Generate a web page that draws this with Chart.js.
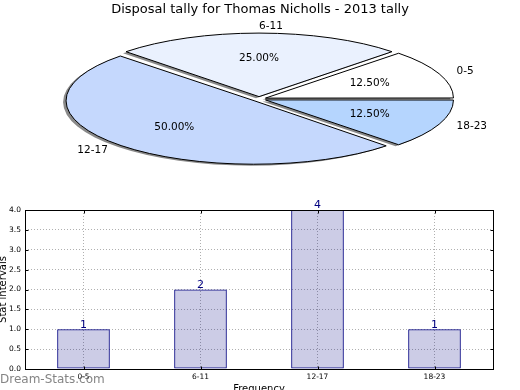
<!DOCTYPE html>
<html>
<head>
<meta charset="utf-8">
<script src="https://cdn.jsdelivr.net/npm/chart.js@4/dist/chart.umd.min.js"></script>
<style>
  body { margin: 0; background: #fff; width: 520px; height: 390px; overflow: hidden; position: relative; }
  canvas { position: absolute; left: 0; }
  #pie { top: 0; }
  #bar { top: 190px; }
</style>
</head>
<body>
<canvas id="pie" width="520" height="190"></canvas>
<canvas id="bar" width="520" height="200"></canvas>
<script>
// --- data ---
const categories = ["0-5", "6-11", "12-17", "18-23"];
const counts = [1, 2, 4, 1];
const yMax = 4;
const yStep = 0.5;
const titleText = "Disposal tally for Thomas Nicholls - 2013 tally";
const xTitle = "Frequency";
const yTitle = "Stat intervals";

// --- style ---
const sliceColors = ["#ffffff", "#eaf1fe", "#c5d8fd", "#b5d5fe"];
const FONT = "DejaVu Sans";
const PIE_CX = 259, PIE_CY = 99, PIE_R = 188, PIE_K = 0.338, PIE_EXPLODE = 7;

Chart.defaults.font.family = FONT;
Chart.defaults.color = "#000";

const total = counts.reduce((a, b) => a + b, 0);

// pie is drawn clockwise from 3 o'clock, so feed it reversed to get matplotlib's ccw order
const pieLabels = categories.slice().reverse();
const pieData = counts.slice().reverse();
const pieColors = sliceColors.slice().reverse();

// squash the pie into an ellipse, strokes kept at 1px
const squash = {
  id: "squash",
  beforeDatasetsDraw(chart) {
    const ctx = chart.ctx;
    const arcs = chart.getDatasetMeta(0).data;
    // chart.js grows exploded arcs by offset*(1-sin(angle)); undo so all slices share one radius
    arcs.forEach(arc => {
      const fix = 1 - Math.sin(Math.min(Math.PI, arc.circumference));
      arc.outerRadius = PIE_R - PIE_EXPLODE * fix;
    });
    const dpr = chart.currentDevicePixelRatio;
    ctx.save();
    ctx.translate(PIE_CX, PIE_CY);
    ctx.scale(1, PIE_K);
    ctx.translate(-arcs[0].x, -arcs[0].y);
    ctx.shadowColor = "rgba(40,40,40,0.55)";
    ctx.shadowOffsetX = -3;
    ctx.shadowOffsetY = 1.5;
    const orig = CanvasRenderingContext2D.prototype.stroke;
    ctx.stroke = function () {
      this.save();
      this.setTransform(dpr, 0, 0, dpr, 0, 0);
      this.shadowColor = "rgba(0,0,0,0)";
      orig.apply(this, arguments);
      this.restore();
    };
  },
  afterDatasetsDraw(chart) {
    const ctx = chart.ctx;
    delete ctx.stroke;
    ctx.restore();
  },
  afterDraw(chart) {
    const ctx = chart.ctx;
    const meta = chart.getDatasetMeta(0);
    ctx.save();
    ctx.font = "10.5px " + FONT;
    ctx.fillStyle = "#000";
    ctx.textBaseline = "middle";
    meta.data.forEach((arc, i) => {
      const p = arc.getProps(["startAngle", "endAngle"], true);
      const mid = (p.startAngle + p.endAngle) / 2;
      const ux = Math.cos(mid), uy = Math.sin(mid);
      const dl = PIE_EXPLODE + PIE_R * 1.1;
      ctx.textAlign = ux > -1e-6 ? "left" : "right";
      ctx.fillText(pieLabels[i], PIE_CX + ux * dl, PIE_CY + uy * dl * PIE_K);
      const dp = PIE_EXPLODE + PIE_R * 0.6;
      ctx.textAlign = "center";
      const pct = (pieData[i] / total * 100).toFixed(2) + "%";
      ctx.fillText(pct, PIE_CX + ux * dp, PIE_CY + uy * dp * PIE_K);
    });
    ctx.restore();
  }
};

new Chart(document.getElementById("pie"), {
  type: "pie",
  data: {
    labels: pieLabels,
    datasets: [{
      data: pieData,
      backgroundColor: pieColors,
      borderColor: "#000",
      borderWidth: 1,
      // chart.js moves each arc by offset/4
      offset: PIE_EXPLODE * 4
    }]
  },
  options: {
    responsive: false,
    animation: false,
    events: [],
    rotation: 90,
    radius: PIE_R,
    plugins: {
      legend: { display: false },
      tooltip: { enabled: false },
      title: {
        display: true,
        text: titleText,
        font: { size: 13, weight: "normal" },
        color: "#000",
        padding: { top: 2, bottom: 0 }
      }
    }
  },
  plugins: [squash]
});

// frame, inward ticks, value labels, watermark
const barDeco = {
  id: "barDeco",
  afterDatasetsDraw(chart) {
    const ctx = chart.ctx;
    const meta = chart.getDatasetMeta(0);
    ctx.save();
    ctx.font = "11px " + FONT;
    ctx.fillStyle = "#000080";
    ctx.textAlign = "center";
    ctx.textBaseline = "bottom";
    meta.data.forEach((bar, i) => {
      ctx.fillText(String(counts[i]), bar.x, bar.y + 1);
    });
    ctx.restore();
  },
  afterDraw(chart) {
    const ctx = chart.ctx;
    const a = chart.chartArea;
    const l = Math.round(a.left) + 0.5, r = Math.round(a.right) + 0.5;
    const t = Math.round(a.top) + 0.5, b = Math.round(a.bottom) + 0.5;
    ctx.save();
    ctx.strokeStyle = "#000";
    ctx.lineWidth = 1;
    ctx.beginPath();
    chart.scales.y.ticks.forEach(tk => {
      const y = Math.round(chart.scales.y.getPixelForValue(tk.value)) + 0.5;
      ctx.moveTo(l, y); ctx.lineTo(l + 3, y);
      ctx.moveTo(r, y); ctx.lineTo(r - 3, y);
    });
    chart.scales.x.ticks.forEach((tk, i) => {
      const x = Math.round(chart.scales.x.getPixelForTick(i)) + 0.5;
      ctx.moveTo(x, b); ctx.lineTo(x, b - 3);
      ctx.moveTo(x, t); ctx.lineTo(x, t + 3);
    });
    ctx.stroke();
    ctx.strokeRect(l, t, r - l, b - t);
    ctx.font = "12px " + FONT;
    ctx.fillStyle = "rgba(110,110,110,0.85)";
    ctx.textAlign = "left";
    ctx.textBaseline = "middle";
    ctx.fillText("Dream-Stats.com", 0, 190);
    ctx.restore();
  }
};

new Chart(document.getElementById("bar"), {
  type: "bar",
  data: {
    labels: categories,
    datasets: [{
      data: counts,
      backgroundColor: "rgba(0,0,128,0.2)",
      borderColor: "#000080",
      borderWidth: 1,
      borderSkipped: false,
      barPercentage: 0.45,
      categoryPercentage: 1
    }]
  },
  options: {
    responsive: false,
    animation: false,
    events: [],
    layout: { padding: { top: 20, right: 27, left: 0, bottom: 0 } },
    plugins: { legend: { display: false }, tooltip: { enabled: false } },
    scales: {
      x: {
        offset: true,
        grid: { offset: false, color: "#b0b0b0", drawTicks: false },
        border: { display: false, dash: [1, 2] },
        ticks: { font: { size: 7.5 }, padding: 4, color: "#000", maxRotation: 0 },
        title: { display: true, text: xTitle, font: { size: 10 }, color: "#000", padding: { top: 0, bottom: -5 } },
        afterFit: s => { s.height = 21; }
      },
      y: {
        min: 0,
        max: yMax,
        grid: { color: "#b0b0b0", drawTicks: false },
        border: { display: false, dash: [1, 2] },
        ticks: { stepSize: yStep, font: { size: 7.5 }, padding: 4, color: "#000", callback: v => Number(v).toFixed(1) },
        title: { display: true, text: yTitle, font: { size: 10 }, color: "#000", padding: { top: -3, bottom: 0 } },
        afterFit: s => { s.width = 25; }
      }
    }
  },
  plugins: [barDeco]
});
</script>
</body>
</html>
